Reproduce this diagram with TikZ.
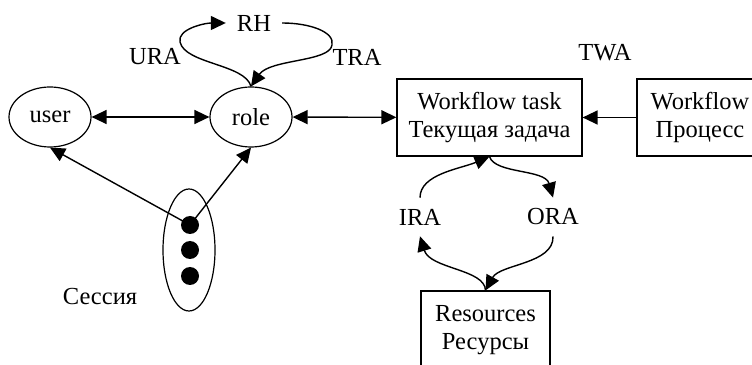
\documentclass[tikz,border=0pt]{standalone}
\usepackage{fontspec}
\setmainfont{Liberation Serif}
\usetikzlibrary{shapes.geometric, arrows.meta}

\begin{document}
\begin{tikzpicture}[x=1pt, y=1pt,
  font=\fontsize{24.5}{28}\selectfont,
  ell/.style={draw, ellipse, line width=1.2pt, inner sep=0pt},
  box/.style={draw, rectangle, line width=1.2pt, align=center, inner sep=0pt},
  lbl/.style={inner sep=11pt},
  dot/.style={circle, fill=black, inner sep=0pt, minimum size=18pt},
  arr/.style={line width=1.4pt, -{Triangle[length=15pt, width=14pt]}},
  dbl/.style={line width=1.4pt, {Triangle[length=15pt, width=14pt]}-{Triangle[length=15pt, width=14pt]}}]
\useasboundingbox (0,0) rectangle (752,364);
% RBAC part
\node[ell, minimum width=82pt, minimum height=60pt] (user) at (50,247) {user};
\node[ell, minimum width=82pt, minimum height=60pt] (role) at (251,247) {role};
\node[inner sep=0pt, minimum width=56pt] (rh) at (254,341) {RH};
\node[inner sep=0pt] (ura) at (155,307) {URA};
\node[inner sep=0pt] (tra) at (357,307) {TRA};
% session
\node[ell, minimum width=52pt, minimum height=122pt] (sess) at (189,114) {};
\node[dot] (d1) at (190,139) {};
\node[dot] (d2) at (190,114) {};
\node[dot] (d3) at (190,88) {};
\node[inner sep=0pt] (sesslbl) at (100,67) {Сессия};
% workflow part
\node[box, minimum width=185pt, minimum height=77pt] (task) at (489.5,246.5)
  {Workflow task\\Текущая задача};
\node[box, minimum width=126pt, minimum height=77pt] (wf) at (700,246.5)
  {Workflow\\Процесс};
\node[inner sep=0pt] (twa) at (605,311) {TWA};
\node[lbl] (ira) at (420,147) {IRA};
\node[lbl] (ora) at (553,147) {ORA};
\node[box, minimum width=129pt, minimum height=79pt] (res) at (485.5,33.5)
  {Resources\\Ресурсы};
% connectors
\draw[dbl] (user) -- (role);
\draw[dbl] (role) -- (task);
\draw[arr] (wf) -- (task);
\draw[arr] (d1.center) -- (user.south);
\draw[arr] (d1.center) -- (role.south);
\draw[arr] (role.north) .. controls (245,300) and (185,300) .. (180,322)
  .. controls (177,335) and (205,341) .. (rh.west);
\draw[arr] (rh.east) .. controls (310,341) and (335,332) .. (332,319)
  .. controls (330,302) and (270,305) .. (role.north);
\draw[arr] (ira.north) .. controls (420,190) and (460,195) .. (task.south);
\draw[arr] (task.south) .. controls (495,190) and (545,195) .. (ora.north);
\draw[arr] (ora.south) .. controls (554,100) and (500,100) .. (res.north);
\draw[arr] (res.north) .. controls (485,95) and (430,95) .. (ira.south);
\end{tikzpicture}
\end{document}
